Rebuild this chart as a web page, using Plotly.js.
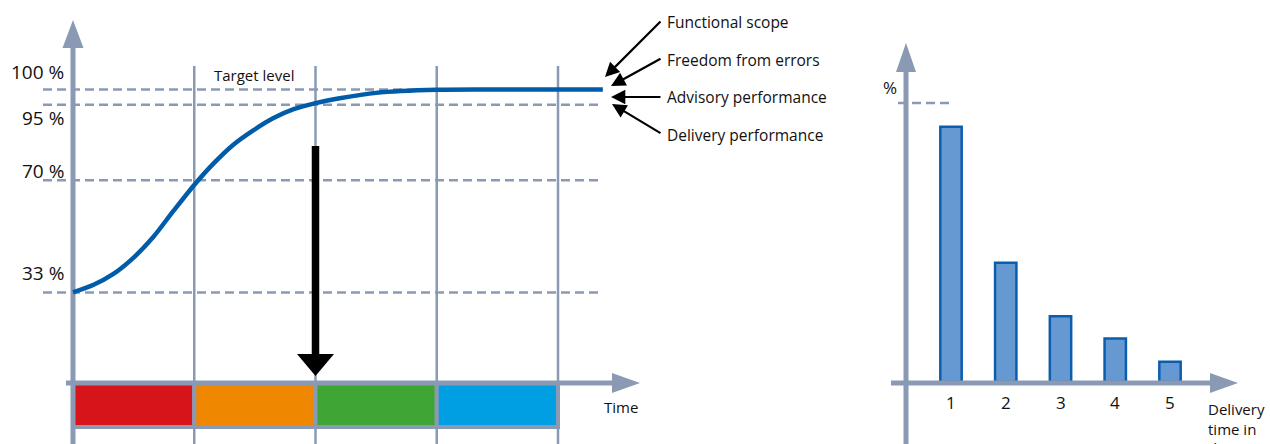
<!DOCTYPE html>
<html>
<head>
<meta charset="utf-8">
<script src="https://cdn.plot.ly/plotly-3.0.1.min.js"></script>
<style>
  html, body { margin: 0; padding: 0; background: #fff; }
  #graph { width: 1270px; height: 444px; }
</style>
</head>
<body>
<div id="graph"></div>
<script>
// left chart: quality level over time
const timeVals = [0, 0.17, 0.33, 0.5, 0.66, 0.83, 1.0, 1.16, 1.32, 1.49, 1.65, 1.82, 2.0, 2.2, 2.5, 3.0, 3.5, 4.37];
const levelCurve = [33, 35.5, 39, 44.5, 51.2, 60, 68.5, 75.6, 81.7, 86.6, 90.5, 93.5, 95.5, 97.1, 98.9, 99.9, 100, 100];
const levelVals = [100, 95, 70, 33];
const levelLabels = ['100 %', '95 %', '70 %', '33 %'];
const phaseColors = ['#d7141a', '#ef8700', '#3fa535', '#009fe3'];
const callouts = ['Functional scope', 'Freedom from errors', 'Advisory performance', 'Delivery performance'];

// right chart: delivery time distribution
const days = [1, 2, 3, 4, 5];
const shares = [91.5, 42.7, 23.6, 15.6, 7.3];

const W = 1270, H = 444;
const X = px => px / W;
const Y = py => 1 - py / H;
const GRAY = '#8a9ab4';
const FONT = 'Open Sans, sans-serif';
const TXT = '#111';

const shapes = [];
const annotations = [];

// phase grid lines
for (let i = 1; i <= 4; i++) {
    shapes.push({type: 'line', layer: 'below', xref: 'x', yref: 'paper', x0: i, x1: i, y0: -0.02, y1: Y(66),
        line: {color: GRAY, width: 2.5}});
}
// dashed level lines
levelVals.forEach(function (v) {
    shapes.push({type: 'line', layer: 'below', xref: 'paper', yref: 'y', x0: X(43), x1: X(603), y0: v, y1: v,
        line: {color: GRAY, width: 2.5, dash: '9px,5px'}});
});
// phase boxes
phaseColors.forEach(function (c, i) {
    shapes.push({type: 'rect', layer: 'below', xref: 'x', yref: 'paper', x0: i, x1: i + 1, y0: Y(427), y1: Y(383),
        fillcolor: c, line: {color: GRAY, width: 4}});
});
// left axes
shapes.push({type: 'line', layer: 'below', xref: 'paper', yref: 'paper', x0: X(73), x1: X(73), y0: -0.02, y1: Y(47),
    line: {color: GRAY, width: 5}});
shapes.push({type: 'path', xref: 'paper', yref: 'paper', fillcolor: GRAY, line: {width: 0},
    path: `M ${X(62.5)},${Y(48)} L ${X(83.5)},${Y(48)} L ${X(73)},${Y(20)} Z`});
shapes.push({type: 'line', xref: 'paper', yref: 'paper', x0: X(66), x1: X(613), y0: Y(383), y1: Y(383),
    line: {color: GRAY, width: 5}});
shapes.push({type: 'path', xref: 'paper', yref: 'paper', fillcolor: GRAY, line: {width: 0},
    path: `M ${X(612)},${Y(373)} L ${X(612)},${Y(393)} L ${X(640)},${Y(383)} Z`});
// big black arrow
shapes.push({type: 'line', xref: 'paper', yref: 'paper', x0: X(315.5), x1: X(315.5), y0: Y(146), y1: Y(356),
    line: {color: '#000', width: 7.5}});
shapes.push({type: 'path', xref: 'paper', yref: 'paper', fillcolor: '#000', line: {width: 0},
    path: `M ${X(297)},${Y(354)} L ${X(334)},${Y(354)} L ${X(315.5)},${Y(376)} Z`});

// right axes
shapes.push({type: 'line', xref: 'paper', yref: 'y2', x0: X(898), x1: X(952), y0: 100, y1: 100,
    line: {color: GRAY, width: 2.5, dash: '9px,5px'}});
shapes.push({type: 'line', xref: 'paper', yref: 'paper', x0: X(906), x1: X(906), y0: -0.02, y1: Y(71),
    line: {color: GRAY, width: 5}});
shapes.push({type: 'path', xref: 'paper', yref: 'paper', fillcolor: GRAY, line: {width: 0},
    path: `M ${X(896)},${Y(72)} L ${X(916)},${Y(72)} L ${X(906)},${Y(43)} Z`});
shapes.push({type: 'line', xref: 'paper', yref: 'paper', x0: X(891), x1: X(1211), y0: Y(383), y1: Y(383),
    line: {color: GRAY, width: 5}});
shapes.push({type: 'path', xref: 'paper', yref: 'paper', fillcolor: GRAY, line: {width: 0},
    path: `M ${X(1210)},${Y(373)} L ${X(1210)},${Y(393)} L ${X(1238)},${Y(383)} Z`});

// level labels
const labelShift = [17.5, -13.5, 9.5, 19];
levelVals.forEach(function (v, i) {
    annotations.push({xref: 'paper', yref: 'y', x: X(66), y: v, yshift: labelShift[i], xanchor: 'right', yanchor: 'middle',
        text: levelLabels[i], showarrow: false, font: {family: FONT, size: 19, color: TXT}});
});
annotations.push({xref: 'paper', yref: 'paper', x: X(254), y: Y(75), xanchor: 'center', yanchor: 'middle',
    text: 'Target level', showarrow: false, font: {family: FONT, size: 15, color: TXT}});
annotations.push({xref: 'paper', yref: 'paper', x: X(602), y: Y(407), xanchor: 'left', yanchor: 'middle',
    text: 'Time', showarrow: false, font: {family: FONT, size: 15, color: TXT}});

// callouts
const calloutY = [21.5, 60, 97.3, 135];
const tips = [[605, 77, 57, -57], [611, 86, 51, -28], [611, 97, 51, 0], [612, 104, 50, 30]];
callouts.forEach(function (t, i) {
    annotations.push({xref: 'paper', yref: 'paper', x: X(665), y: Y(calloutY[i]), xanchor: 'left', yanchor: 'middle',
        text: t, showarrow: false, font: {family: FONT, size: 15.5, color: TXT}});
    annotations.push({xref: 'paper', yref: 'paper', x: X(tips[i][0]), y: Y(tips[i][1]), text: '',
        showarrow: true, arrowhead: 2, arrowsize: 1.3, arrowwidth: 2.2, arrowcolor: '#000',
        ax: tips[i][2], ay: tips[i][3]});
});

// right labels
annotations.push({xref: 'paper', yref: 'paper', x: X(890), y: Y(88), xanchor: 'center', yanchor: 'middle',
    text: '%', showarrow: false, font: {family: FONT, size: 17, color: TXT}});
days.forEach(function (d) {
    annotations.push({xref: 'x2', yref: 'paper', x: d, y: Y(402), xanchor: 'center', yanchor: 'middle',
        text: String(d), showarrow: false, font: {family: FONT, size: 17, color: TXT}});
});
annotations.push({xref: 'paper', yref: 'paper', x: X(1206), y: Y(397), xanchor: 'left', yanchor: 'top', align: 'left',
    text: 'Delivery<br>time in<br>days', showarrow: false, font: {family: FONT, size: 15, color: TXT}});

const traceCurve = {
    x: timeVals,
    y: levelCurve,
    type: 'scatter',
    mode: 'lines',
    line: {color: '#005ca9', width: 4.5, shape: 'spline', smoothing: 0.8},
    xaxis: 'x',
    yaxis: 'y',
    hoverinfo: 'skip'
};
const traceBars = {
    x: days,
    y: shares,
    type: 'bar',
    width: 0.39,
    marker: {color: '#6699d2', line: {color: '#0b5ead', width: 2.5}},
    xaxis: 'x2',
    yaxis: 'y2',
    hoverinfo: 'skip'
};

const layout = {
    width: W,
    height: H,
    margin: {l: 0, r: 0, t: 0, b: 0},
    paper_bgcolor: '#fff',
    plot_bgcolor: 'rgba(0,0,0,0)',
    showlegend: false,
    xaxis: {domain: [0, 660 / W], range: [-73 / 121.25, 587 / 121.25], visible: false, fixedrange: true},
    yaxis: {domain: [0, 1], range: [74.5 - 277.25 / 3.0275, 74.5 + 166.75 / 3.0275], visible: false, fixedrange: true},
    xaxis2: {domain: [860 / W, 1], range: [1 - 91 / 54.75, 1 + 319 / 54.75], visible: false, fixedrange: true, anchor: 'y2'},
    yaxis2: {domain: [0, 1], range: [-62 / 2.79, 382 / 2.79], visible: false, fixedrange: true, anchor: 'x2'},
    shapes: shapes,
    annotations: annotations
};

Plotly.newPlot('graph', [traceCurve, traceBars], layout, {staticPlot: true});
</script>
</body>
</html>
